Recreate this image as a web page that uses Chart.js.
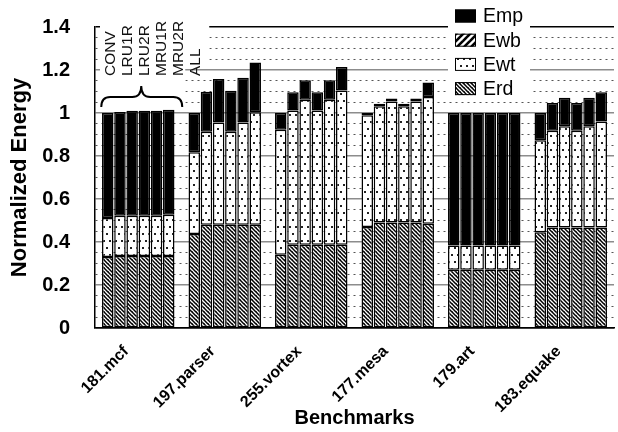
<!DOCTYPE html>
<html><head><meta charset="utf-8">
<script src="https://cdn.jsdelivr.net/npm/chart.js@4/dist/chart.umd.min.js"></script>
<style>html,body{margin:0;padding:0;background:#fff}#wrap{width:618px;height:432px}</style>
</head><body><div id="wrap"><canvas id="c" width="618" height="432"></canvas></div>
<script>
// ---- data ----
const benchmarks = ['181.mcf', '197.parser', '255.vortex', '177.mesa', '179.art', '183.equake'];
const configs = ['CONV', 'LRU1R', 'LRU2R', 'MRU1R', 'MRU2R', 'ALL'];
// rows: configs (CONV..ALL), columns: benchmarks
const erd = [
  [0.330, 0.437, 0.341, 0.470, 0.271, 0.445],
  [0.335, 0.480, 0.387, 0.491, 0.271, 0.468],
  [0.335, 0.480, 0.387, 0.491, 0.271, 0.468],
  [0.335, 0.480, 0.387, 0.491, 0.271, 0.468],
  [0.335, 0.480, 0.387, 0.491, 0.271, 0.468],
  [0.335, 0.480, 0.387, 0.485, 0.271, 0.468]
];
const ewt = [
  [0.182, 0.380, 0.581, 0.520, 0.113, 0.428],
  [0.187, 0.433, 0.625, 0.540, 0.113, 0.450],
  [0.187, 0.476, 0.675, 0.563, 0.113, 0.470],
  [0.187, 0.433, 0.625, 0.540, 0.113, 0.450],
  [0.187, 0.476, 0.675, 0.563, 0.113, 0.470],
  [0.192, 0.523, 0.718, 0.589, 0.113, 0.493]
];
const ewb = [
  [0, 0, 0, 0, 0, 0],
  [0, 0, 0, 0, 0, 0],
  [0, 0, 0, 0, 0, 0],
  [0, 0, 0, 0, 0, 0],
  [0, 0, 0, 0, 0, 0],
  [0, 0, 0, 0, 0, 0]
];
const emp = [
  [0.488, 0.183, 0.078, 0.010, 0.616, 0.127],
  [0.483, 0.186, 0.085, 0.012, 0.616, 0.129],
  [0.488, 0.202, 0.090, 0.014, 0.616, 0.133],
  [0.488, 0.191, 0.085, 0.012, 0.616, 0.129],
  [0.488, 0.208, 0.090, 0.014, 0.616, 0.133],
  [0.488, 0.232, 0.109, 0.068, 0.616, 0.135]
];
const yTickLabels = ['0', '0.2', '0.4', '0.6', '0.8', '1', '1.2', '1.4'];
const legendOrder = ['Emp', 'Ewb', 'Ewt', 'Erd'];

// ---- patterns ----
function tile(w, h, draw) {
  const c = document.createElement('canvas');
  c.width = w; c.height = h;
  const g = c.getContext('2d');
  g.fillStyle = '#fff'; g.fillRect(0, 0, w, h);
  draw(g);
  return document.getElementById('c').getContext('2d').createPattern(c, 'repeat');
}
const pErd = tile(4, 4, g => {
  g.strokeStyle = '#000'; g.lineWidth = 1.5;
  [-4, 0, -8].forEach(dx => {
    g.beginPath(); g.moveTo(dx - 2, -2); g.lineTo(dx + 10, 10); g.stroke();
  });
  g.beginPath(); g.moveTo(2, -2); g.lineTo(8, 4); g.stroke();
  g.beginPath(); g.moveTo(-2, 2); g.lineTo(4, 8); g.stroke();
});
const pEwt = tile(6, 14, g => {
  g.fillStyle = '#222';
  g.fillRect(1, 2, 2, 2);
  g.fillRect(4, 9, 2, 2);
});
const pEwb = tile(7, 7, g => {
  g.strokeStyle = '#000'; g.lineWidth = 2.6;
  for (let k = -7; k <= 14; k += 7) {
    g.beginPath(); g.moveTo(k - 1, 8); g.lineTo(k + 8, -1); g.stroke();
  }
});
const fills = { Erd: pErd, Ewt: pEwt, Ewb: pEwb, Emp: '#000' };
const compData = { Erd: erd, Ewt: ewt, Ewb: ewb, Emp: emp };
const stackOrder = ['Erd', 'Ewt', 'Ewb', 'Emp'];

const datasets = [];
configs.forEach((cfg, ci) => {
  stackOrder.forEach(name => {
    datasets.push({
      label: name,
      stack: cfg,
      data: compData[name][ci],
      backgroundColor: fills[name],
      borderColor: '#000',
      borderWidth: 1.5,
      borderSkipped: false,
      categoryPercentage: 0.846,
      barPercentage: 0.94
    });
  });
});

const FAM = "'Liberation Sans', Arial, Helvetica, sans-serif";

const decor = {
  id: 'decor',
  beforeDatasetsDraw(chart) {
    const { ctx, chartArea: a, scales: { x } } = chart;
    const cx = x.getPixelForValue(0);
    ctx.save();
    ctx.fillStyle = '#fff';
    // backdrop behind the configuration annotation
    ctx.fillRect(a.left + 5, a.top - 1, cx + 71 - (a.left + 5), 40);
    ctx.fillRect(a.left + 5, a.top - 1, cx + 47 - (a.left + 5), 82);
    // backdrop behind the legend
    ctx.fillRect(a.right - 166, a.top - 2, 82, 72);
    ctx.restore();
  },
  afterDatasetsDraw(chart) {
    const { ctx, chartArea: a, scales: { x } } = chart;
    const cx = x.getPixelForValue(0);
    ctx.save();
    // rotated configuration names
    ctx.fillStyle = '#111';
    ctx.font = "15.5px " + FAM;
    ctx.textAlign = 'left';
    ctx.textBaseline = 'middle';
    configs.forEach((name, i) => {
      ctx.save();
      ctx.translate(cx - 28 + i * 17, a.top + 49);
      ctx.rotate(-Math.PI / 2);
      ctx.fillText(name, 0, 0);
      ctx.restore();
    });
    // curly brace
    const x1 = cx - 37, x2 = cx + 44, xm = cx + 3;
    const yb = a.top + 80, ym = a.top + 70, yt = a.top + 59;
    ctx.strokeStyle = '#000';
    ctx.lineWidth = 2;
    ctx.beginPath();
    ctx.moveTo(x1, yb);
    ctx.quadraticCurveTo(x1, ym, x1 + 9, ym);
    ctx.lineTo(xm - 9, ym);
    ctx.quadraticCurveTo(xm, ym, xm, yt);
    ctx.quadraticCurveTo(xm, ym, xm + 9, ym);
    ctx.lineTo(x2 - 9, ym);
    ctx.quadraticCurveTo(x2, ym, x2, yb);
    ctx.stroke();
    // legend
    ctx.font = "19.5px " + FAM;
    ctx.textBaseline = 'middle';
    ctx.textAlign = 'left';
    legendOrder.forEach((name, i) => {
      const yc = a.top - 11 + i * 24.2;
      const bx = a.right - 159;
      ctx.fillStyle = fills[name];
      ctx.fillRect(bx, yc - 6.5, 21, 13);
      ctx.lineWidth = 1;
      ctx.strokeStyle = '#000';
      ctx.strokeRect(bx + 0.5, yc - 6.5 + 0.5, 20, 12);
      ctx.fillStyle = '#000';
      ctx.fillText(name, a.right - 131, yc + 1);
    });
    ctx.restore();
  }
};

Chart.defaults.color = '#000';
new Chart(document.getElementById('c'), {
  type: 'bar',
  data: { labels: benchmarks, datasets },
  options: {
    responsive: false,
    animation: false,
    layout: { padding: { top: 27, right: 4, left: 0, bottom: 0 } },
    plugins: { legend: { display: false }, tooltip: { enabled: false } },
    scales: {
      x: {
        stacked: true,
        grid: { drawOnChartArea: false, drawTicks: false },
        border: { color: '#000', width: 1.5 },
        ticks: {
          autoSkip: false, maxRotation: 45, minRotation: 45, padding: 14, labelOffset: -12,
          color: '#000', font: { family: FAM, size: 16, weight: 'bold' }
        },
        title: {
          display: true, text: 'Benchmarks', color: '#000',
          font: { family: FAM, size: 20, weight: 'bold' }, padding: { top: 0, bottom: 2 }
        },
        afterFit: s => { s.height = 104; }
      },
      y: {
        stacked: true,
        min: 0, max: 1.4,
        ticks: {
          stepSize: 0.05, autoSkip: false, padding: 25, color: '#000',
          font: { family: FAM, size: 20, weight: 'bold' },
          callback: v => {
            const k = Math.round(v * 100);
            return k % 20 === 0 ? yTickLabels[k / 20] : '';
          }
        },
        grid: {
          drawTicks: false,
          color: c => {
            const k = Math.round(c.tick.value * 100);
            if (k === 140 || k === 0) return '#000';
            return k % 20 === 0 ? '#8c8c8c' : '#555555';
          },
          lineWidth: c => {
            const k = Math.round(c.tick.value * 100);
            return k === 140 ? 1.5 : (k % 20 === 0 ? 1.5 : 1);
          }
        },
        border: {
          color: '#000', width: 1.5,
          dash: c => (c.tick && Math.round(c.tick.value * 100) % 20 !== 0) ? [2, 4] : []
        },
        title: {
          display: true, text: 'Normalized Energy', color: '#000',
          font: { family: FAM, size: 22, weight: 'bold' }, padding: { top: 7, bottom: 0 }
        },
        afterFit: s => { s.width = 95; s.paddingTop = 0; s.paddingBottom = 0; }
      }
    }
  },
  plugins: [decor]
});
</script>
</body></html>
